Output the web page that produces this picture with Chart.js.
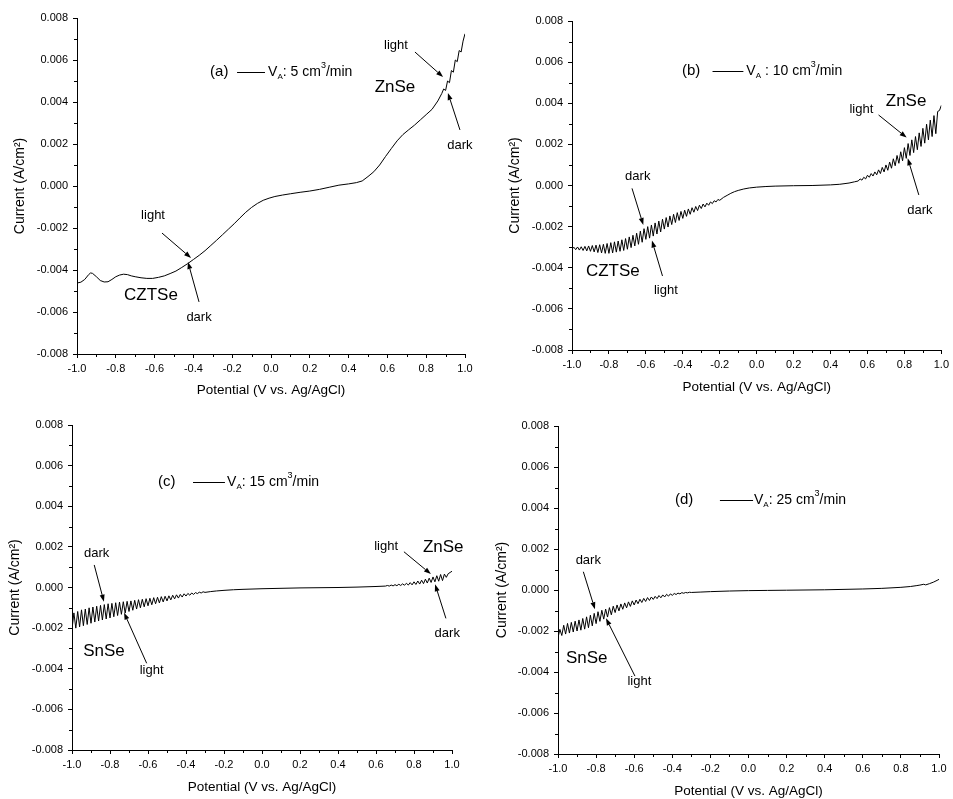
<!DOCTYPE html>
<html>
<head>
<meta charset="utf-8">
<script src="https://cdn.jsdelivr.net/npm/chart.js@4.4.0/dist/chart.umd.min.js"></script>
<style>
  html, body { margin: 0; padding: 0; background: #fff; }
  body { width: 953px; height: 799px; position: relative; overflow: hidden; }
  canvas { position: absolute; }
</style>
</head>
<body>
<canvas id="chartA" width="480" height="400" style="left:0px;top:0px"></canvas>
<canvas id="chartB" width="473" height="400" style="left:480px;top:0px"></canvas>
<canvas id="chartC" width="480" height="399" style="left:0px;top:400px"></canvas>
<canvas id="chartD" width="473" height="399" style="left:480px;top:400px"></canvas>
<script>
// ---- data (potential in V, current in A/cm2) ----
const potA = [-1.00,-0.98,-0.96,-0.94,-0.93,-0.92,-0.90,-0.88,-0.86,-0.84,
  -0.82,-0.80,-0.78,-0.76,-0.74,-0.72,-0.70,-0.67,-0.64,-0.61,
  -0.58,-0.55,-0.52,-0.49,-0.46,-0.43,-0.40,-0.37,-0.34,-0.31,
  -0.28,-0.25,-0.22,-0.19,-0.16,-0.13,-0.10,-0.07,-0.04,-0.01,
  0.02,0.06,0.10,0.15,0.20,0.25,0.30,0.35,0.40,0.44,
  0.47,0.50,0.53,0.56,0.59,0.62,0.65,0.68,0.71,0.74,
  0.77,0.80,0.83,0.86,0.88,0.89,0.90,0.91,0.92,0.93,
  0.94,0.95,0.96,0.97,0.98,0.99,1.00];
const curA = [-0.00462,-0.00458,-0.00445,-0.00422,-0.00414,-0.00416,-0.00432,-0.00450,-0.00457,-0.00456,
  -0.00445,-0.00432,-0.00424,-0.00420,-0.00422,-0.00428,-0.00432,-0.00437,-0.00440,-0.00440,
  -0.00435,-0.00428,-0.00417,-0.00405,-0.00388,-0.00370,-0.00350,-0.00330,-0.00308,-0.00283,
  -0.00258,-0.00232,-0.00206,-0.00180,-0.00152,-0.00125,-0.00102,-0.00083,-0.00068,-0.00058,
  -0.00050,-0.00043,-0.00037,-0.00030,-0.00024,-0.00016,-0.00006,0.00004,0.00010,0.00016,
  0.00024,0.00045,0.00068,0.00100,0.00140,0.00178,0.00215,0.00245,0.00268,0.00290,
  0.00315,0.00340,0.00365,0.00405,0.00440,0.00462,0.00455,0.00500,0.00492,0.00550,
  0.00542,0.00600,0.00592,0.00645,0.00638,0.00690,0.00725];

const potB = [-1.00,-0.99,-0.98,-0.97,-0.96,-0.95,-0.94,-0.93,-0.92,-0.91,
  -0.90,-0.89,-0.88,-0.87,-0.86,-0.85,-0.84,-0.83,-0.82,-0.81,
  -0.80,-0.79,-0.78,-0.77,-0.76,-0.75,-0.74,-0.73,-0.72,-0.71,
  -0.70,-0.69,-0.68,-0.67,-0.66,-0.65,-0.64,-0.63,-0.62,-0.61,
  -0.60,-0.59,-0.58,-0.57,-0.56,-0.55,-0.54,-0.53,-0.52,-0.51,
  -0.50,-0.49,-0.48,-0.47,-0.46,-0.45,-0.44,-0.43,-0.42,-0.41,
  -0.40,-0.39,-0.38,-0.37,-0.36,-0.35,-0.34,-0.33,-0.32,-0.31,
  -0.30,-0.29,-0.28,-0.27,-0.26,-0.25,-0.24,-0.23,-0.22,-0.21,
  -0.20,-0.18,-0.16,-0.14,-0.12,-0.10,-0.07,-0.04,0.00,0.05,
  0.10,0.20,0.30,0.40,0.45,0.50,0.53,0.55,0.56,0.57,
  0.58,0.59,0.60,0.61,0.62,0.63,0.64,0.65,0.66,0.67,
  0.68,0.69,0.70,0.71,0.72,0.73,0.74,0.75,0.76,0.77,
  0.78,0.79,0.80,0.81,0.82,0.83,0.84,0.85,0.86,0.87,
  0.88,0.89,0.90,0.91,0.92,0.93,0.94,0.95,0.96,0.97,
  0.98,0.99,1.00];
const curB = [-0.00310,-0.00300,-0.00312,-0.00299,-0.00314,-0.00298,-0.00316,-0.00296,-0.00318,-0.00294,
  -0.00320,-0.00292,-0.00323,-0.00290,-0.00326,-0.00288,-0.00328,-0.00286,-0.00330,-0.00282,
  -0.00330,-0.00278,-0.00328,-0.00274,-0.00324,-0.00270,-0.00320,-0.00264,-0.00316,-0.00258,
  -0.00310,-0.00250,-0.00302,-0.00242,-0.00294,-0.00232,-0.00286,-0.00222,-0.00276,-0.00210,
  -0.00262,-0.00200,-0.00256,-0.00192,-0.00246,-0.00182,-0.00236,-0.00173,-0.00226,-0.00164,
  -0.00212,-0.00156,-0.00202,-0.00148,-0.00190,-0.00140,-0.00180,-0.00132,-0.00170,-0.00126,
  -0.00160,-0.00120,-0.00150,-0.00114,-0.00140,-0.00108,-0.00130,-0.00102,-0.00122,-0.00096,
  -0.00112,-0.00090,-0.00104,-0.00086,-0.00096,-0.00080,-0.00088,-0.00074,-0.00080,-0.00068,
  -0.00072,-0.00058,-0.00048,-0.00038,-0.00030,-0.00024,-0.00017,-0.00012,-0.00008,-0.00005,
  -0.00003,-0.00001,0.00000,0.00003,0.00006,0.00012,0.00018,0.00022,0.00032,0.00026,
  0.00040,0.00032,0.00050,0.00040,0.00058,0.00046,0.00066,0.00052,0.00076,0.00058,
  0.00088,0.00066,0.00100,0.00074,0.00114,0.00084,0.00130,0.00096,0.00146,0.00108,
  0.00164,0.00120,0.00184,0.00132,0.00204,0.00146,0.00222,0.00160,0.00238,0.00174,
  0.00256,0.00190,0.00278,0.00206,0.00298,0.00222,0.00318,0.00238,0.00340,0.00252,
  0.00360,0.00365,0.00390];

const potC = [-1.00,-0.99,-0.98,-0.97,-0.96,-0.95,-0.94,-0.93,-0.92,-0.91,
  -0.90,-0.89,-0.88,-0.87,-0.86,-0.85,-0.84,-0.83,-0.82,-0.81,
  -0.80,-0.79,-0.78,-0.77,-0.76,-0.75,-0.74,-0.73,-0.72,-0.71,
  -0.70,-0.69,-0.68,-0.67,-0.66,-0.65,-0.64,-0.63,-0.62,-0.61,
  -0.60,-0.59,-0.58,-0.57,-0.56,-0.55,-0.54,-0.53,-0.52,-0.51,
  -0.50,-0.49,-0.48,-0.47,-0.46,-0.45,-0.44,-0.43,-0.42,-0.41,
  -0.40,-0.39,-0.38,-0.37,-0.36,-0.35,-0.34,-0.33,-0.32,-0.31,
  -0.30,-0.27,-0.24,-0.20,-0.15,-0.10,0.00,0.10,0.20,0.30,
  0.40,0.50,0.60,0.65,0.66,0.67,0.68,0.69,0.70,0.71,
  0.72,0.73,0.74,0.75,0.76,0.77,0.78,0.79,0.80,0.81,
  0.82,0.83,0.84,0.85,0.86,0.87,0.88,0.89,0.90,0.91,
  0.92,0.93,0.94,0.95,0.96,0.97,0.98,0.99,1.00];
const curC = [-0.00205,-0.00125,-0.00200,-0.00118,-0.00194,-0.00110,-0.00188,-0.00106,-0.00182,-0.00100,
  -0.00176,-0.00096,-0.00170,-0.00092,-0.00165,-0.00088,-0.00160,-0.00084,-0.00155,-0.00080,
  -0.00150,-0.00078,-0.00144,-0.00075,-0.00138,-0.00072,-0.00132,-0.00070,-0.00126,-0.00068,
  -0.00118,-0.00066,-0.00112,-0.00063,-0.00106,-0.00060,-0.00100,-0.00058,-0.00095,-0.00055,
  -0.00090,-0.00053,-0.00085,-0.00050,-0.00080,-0.00048,-0.00076,-0.00045,-0.00071,-0.00043,
  -0.00066,-0.00041,-0.00061,-0.00038,-0.00056,-0.00036,-0.00052,-0.00034,-0.00047,-0.00031,
  -0.00042,-0.00029,-0.00038,-0.00027,-0.00034,-0.00025,-0.00030,-0.00023,-0.00027,-0.00021,
  -0.00024,-0.00020,-0.00017,-0.00014,-0.00011,-0.00009,-0.00006,-0.00004,-0.00002,-0.00001,
  0.00000,0.00002,0.00005,0.00007,0.00010,0.00007,0.00012,0.00008,0.00014,0.00009,
  0.00016,0.00010,0.00018,0.00011,0.00021,0.00012,0.00024,0.00013,0.00028,0.00015,
  0.00032,0.00017,0.00036,0.00019,0.00041,0.00022,0.00046,0.00025,0.00052,0.00028,
  0.00058,0.00031,0.00064,0.00034,0.00066,0.00050,0.00068,0.00074,0.00080];

const potD = [-1.00,-0.99,-0.98,-0.97,-0.96,-0.95,-0.94,-0.93,-0.92,-0.91,
  -0.90,-0.89,-0.88,-0.87,-0.86,-0.85,-0.84,-0.83,-0.82,-0.81,
  -0.80,-0.79,-0.78,-0.77,-0.76,-0.75,-0.74,-0.73,-0.72,-0.71,
  -0.70,-0.69,-0.68,-0.67,-0.66,-0.65,-0.64,-0.63,-0.62,-0.61,
  -0.60,-0.59,-0.58,-0.57,-0.56,-0.55,-0.54,-0.53,-0.52,-0.51,
  -0.50,-0.49,-0.48,-0.47,-0.46,-0.45,-0.44,-0.43,-0.42,-0.41,
  -0.40,-0.39,-0.38,-0.37,-0.36,-0.35,-0.34,-0.33,-0.32,-0.31,
  -0.30,-0.25,-0.20,-0.10,0.00,0.10,0.20,0.40,0.60,0.70,
  0.80,0.85,0.88,0.90,0.92,0.93,0.95,0.97,0.99,1.00];
const curD = [-0.00232,-0.00192,-0.00222,-0.00172,-0.00215,-0.00163,-0.00210,-0.00158,-0.00205,-0.00152,
  -0.00200,-0.00146,-0.00196,-0.00139,-0.00191,-0.00131,-0.00184,-0.00123,-0.00175,-0.00114,
  -0.00164,-0.00106,-0.00153,-0.00099,-0.00142,-0.00093,-0.00132,-0.00086,-0.00121,-0.00079,
  -0.00110,-0.00073,-0.00102,-0.00068,-0.00094,-0.00063,-0.00087,-0.00058,-0.00080,-0.00053,
  -0.00073,-0.00049,-0.00067,-0.00045,-0.00061,-0.00041,-0.00056,-0.00037,-0.00051,-0.00034,
  -0.00046,-0.00031,-0.00042,-0.00027,-0.00038,-0.00024,-0.00034,-0.00021,-0.00030,-0.00019,
  -0.00026,-0.00017,-0.00022,-0.00015,-0.00019,-0.00013,-0.00016,-0.00012,-0.00014,-0.00011,
  -0.00012,-0.00010,-0.00008,-0.00005,-0.00003,-0.00002,-0.00001,0.00001,0.00005,0.00008,
  0.00013,0.00017,0.00021,0.00024,0.00028,0.00025,0.00031,0.00038,0.00047,0.00052];

// annotation texts / arrows, placed in data coordinates
const notesA = [['light', 0.644, 0.0067], ['ZnSe', 0.639, 0.0047, true], ['dark', 0.974, 0.00195],
  ['light', -0.608, -0.00138], ['CZTSe', -0.619, -0.0052, true], ['dark', -0.371, -0.00624]];
const arrowsA = [[0.742, 0.00638, 0.887, 0.00519], [0.974, 0.00267, 0.912, 0.00443],
  [-0.562, -0.00224, -0.412, -0.00343], [-0.371, -0.00552, -0.428, -0.00362]];
const notesB = [['dark', -0.644, 0.00046], ['light', -0.492, -0.00512], ['CZTSe', -0.779, -0.00419, true],
  ['light', 0.567, 0.00372], ['ZnSe', 0.809, 0.00408, true], ['dark', 0.884, -0.00123]];
const arrowsB = [[-0.675, -0.00014, -0.614, -0.00192], [-0.510, -0.0044, -0.567, -0.00268],
  [0.660, 0.00343, 0.812, 0.00233], [0.878, -0.00046, 0.818, 0.00132]];
const notesC = [['dark', -0.870, 0.00168], ['light', -0.581, -0.00406], ['SnSe', -0.832, -0.00316, true],
  ['light', 0.653, 0.00204], ['ZnSe', 0.954, 0.00198, true], ['dark', 0.975, -0.00226]];
const arrowsC = [[-0.883, 0.00111, -0.832, -0.0007], [-0.607, -0.00373, -0.726, -0.00124],
  [0.747, 0.00176, 0.889, 0.00066], [0.968, -0.00152, 0.911, 0.00016]];
const notesD = [['dark', -0.841, 0.00146], ['light', -0.573, -0.00447], ['SnSe', -0.849, -0.00333, true]];
const arrowsD = [[-0.867, 0.00089, -0.806, -0.00094], [-0.596, -0.0042, -0.748, -0.00138]];

const legendA = {tag: '(a)', tagX: -0.314, lineX0: -0.175, lineX1: -0.031, textX: -0.015, y: 0.00543, rate: ': 5'};
const legendB = {tag: '(b)', tagX: -0.405, lineX0: -0.239, lineX1: -0.072, textX: -0.056, y: 0.00557, rate: ' : 10'};
const legendC = {tag: '(c)', tagX: -0.547, lineX0: -0.363, lineX1: -0.195, textX: -0.184, y: 0.0052, rate: ': 15'};
const legendD = {tag: '(d)', tagX: -0.386, lineX0: -0.150, lineX1: 0.024, textX: 0.029, y: 0.00439, rate: ': 25'};

const FONT = '"Liberation Sans", Arial, sans-serif';
Chart.defaults.font.family = FONT;
Chart.defaults.color = '#000';

const overlay = {
  id: 'overlay',
  afterDraw(chart, args, opts) {
    const {ctx, chartArea} = chart;
    const xs = chart.scales.x, ys = chart.scales.y;
    const X = v => xs.getPixelForValue(v), Y = v => ys.getPixelForValue(v);
    ctx.save();
    ctx.strokeStyle = '#000';
    ctx.fillStyle = '#000';
    ctx.lineWidth = 1;

    // minor ticks half way between the major ones
    ctx.beginPath();
    for (let i = 1; i < xs.ticks.length; i++) {
      const px = Math.round(X((xs.ticks[i - 1].value + xs.ticks[i].value) / 2)) + 0.5;
      ctx.moveTo(px, chartArea.bottom);
      ctx.lineTo(px, chartArea.bottom + 3);
    }
    for (let i = 1; i < ys.ticks.length; i++) {
      const py = Math.round(Y((ys.ticks[i - 1].value + ys.ticks[i].value) / 2)) + 0.5;
      ctx.moveTo(chartArea.left, py);
      ctx.lineTo(chartArea.left - 3, py);
    }
    ctx.stroke();

    // arrows
    opts.arrows.forEach(([x0, y0, x1, y1]) => {
      const ax = X(x0), ay = Y(y0), bx = X(x1), by = Y(y1);
      const a = Math.atan2(by - ay, bx - ax), c = Math.cos(a), s = Math.sin(a);
      const head = 7, half = 2.5;
      ctx.beginPath();
      ctx.moveTo(ax, ay);
      ctx.lineTo(bx - head * c, by - head * s);
      ctx.stroke();
      ctx.beginPath();
      ctx.moveTo(bx, by);
      ctx.lineTo(bx - head * c + half * s, by - head * s - half * c);
      ctx.lineTo(bx - head * c - half * s, by - head * s + half * c);
      ctx.closePath();
      ctx.fill();
    });

    // labels
    ctx.textAlign = 'center';
    ctx.textBaseline = 'middle';
    opts.notes.forEach(([t, x, y, big]) => {
      ctx.font = (big ? '17px ' : '13px ') + FONT;
      ctx.fillText(t, X(x), Y(y));
    });

    // legend: (a) ---- VA: 5 cm3/min
    const lg = opts.legend, ly = Math.round(Y(lg.y));
    ctx.textAlign = 'left';
    ctx.font = '15px ' + FONT;
    ctx.fillText(lg.tag, X(lg.tagX), ly);
    ctx.beginPath();
    ctx.moveTo(X(lg.lineX0), ly + 0.5);
    ctx.lineTo(X(lg.lineX1), ly + 0.5);
    ctx.stroke();
    let tx = X(lg.textX);
    const part = (t, size, dy) => {
      ctx.font = size + 'px ' + FONT;
      ctx.fillText(t, tx, ly + dy);
      tx += ctx.measureText(t).width;
    };
    part('V', 14, 0);
    part('A', 8, 5);
    part(lg.rate + ' cm', 14, 0);
    part('3', 9, -6);
    part('/min', 14, 0);
    ctx.restore();
  }
};

function makePanel(id, pot, cur, frame, notes, arrows, legend) {
  new Chart(document.getElementById(id), {
    type: 'line',
    data: {
      datasets: [{
        data: pot.map((p, i) => ({x: p, y: cur[i]})),
        borderColor: '#000',
        borderWidth: 1,
        pointRadius: 0,
        tension: 0,
        fill: false
      }]
    },
    options: {
      responsive: false,
      animation: false,
      layout: {padding: {left: 0, top: frame.top, right: frame.right, bottom: 0}},
      plugins: {
        legend: {display: false},
        tooltip: {enabled: false},
        overlay: {notes, arrows, legend}
      },
      scales: {
        x: {
          type: 'linear', min: -1, max: 1,
          border: {color: '#000', width: 1},
          grid: {drawOnChartArea: false, tickLength: 4, color: '#000'},
          ticks: {stepSize: 0.2, padding: 4, maxRotation: 0, autoSkip: false,
            font: {size: 11}, callback: v => (Math.abs(v) < 1e-9 ? 0 : v).toFixed(1)},
          title: {display: true, text: 'Potential (V vs. Ag/AgCl)', font: {size: 13.5},
            padding: {top: 0, bottom: frame.xPad}},
          afterFit: s => { s.height = frame.xH; }
        },
        y: {
          min: -0.008, max: 0.008,
          border: {color: '#000', width: 1},
          grid: {drawOnChartArea: false, tickLength: 4, color: '#000'},
          ticks: {stepSize: 0.002, padding: 5, autoSkip: false,
            font: {size: 11}, callback: v => (Math.abs(v) < 1e-9 ? 0 : v).toFixed(3)},
          title: {display: true, text: 'Current (A/cm²)', font: {size: 14},
            padding: {top: frame.yPad, bottom: 0}},
          afterFit: s => { s.width = frame.yW; }
        }
      }
    },
    plugins: [overlay]
  });
}

makePanel('chartA', potA, curA, {top: 18, right: 15, yW: 77, xH: 46, xPad: 2, yPad: 12}, notesA, arrowsA, legendA);
makePanel('chartB', potB, curB, {top: 21, right: 8, yW: 92, xH: 50, xPad: 5, yPad: 27}, notesB, arrowsB, legendB);
makePanel('chartC', potC, curC, {top: 25, right: 28, yW: 72, xH: 49, xPad: 4, yPad: 7}, notesC, arrowsC, legendC);
makePanel('chartD', potD, curD, {top: 26, right: 14, yW: 78, xH: 45, xPad: 0, yPad: 14}, notesD, arrowsD, legendD);
</script>
</body>
</html>
